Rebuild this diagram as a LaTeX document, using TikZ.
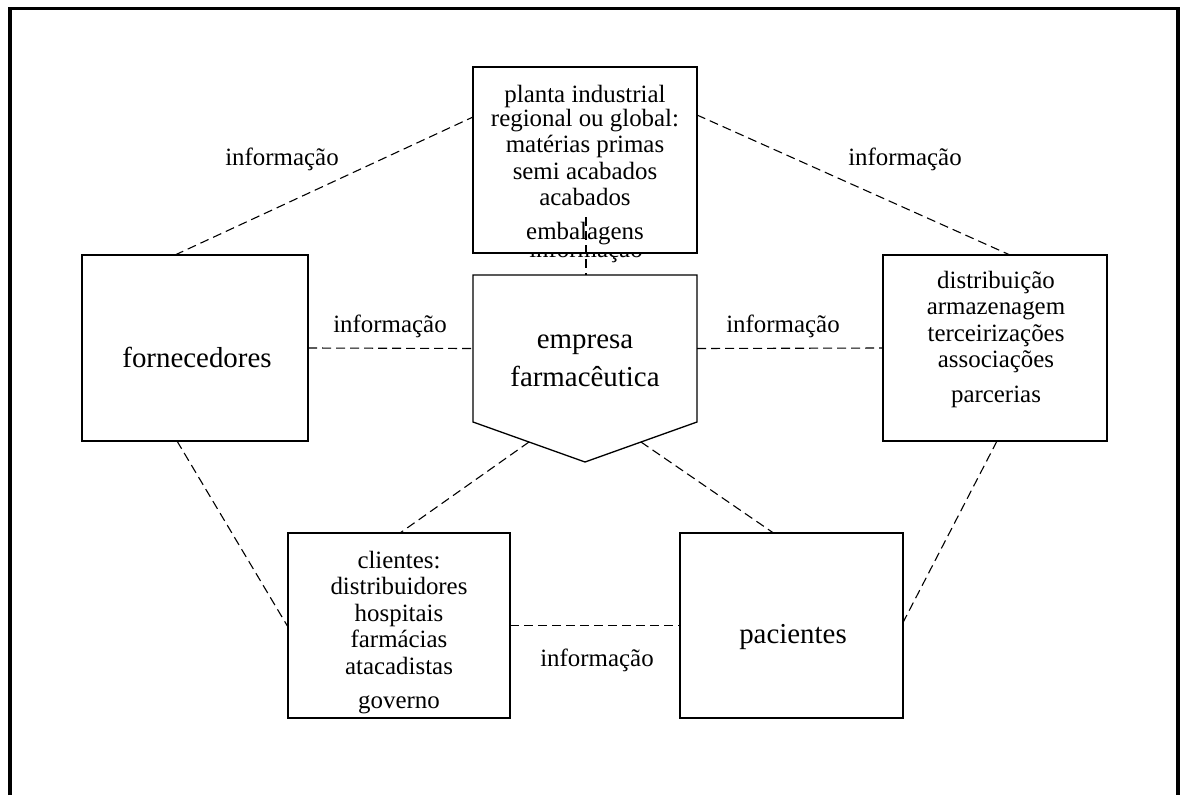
\documentclass[tikz,border=0pt]{standalone}
\usepackage{fontspec}
\setmainfont{Liberation Serif}
\usetikzlibrary{calc}

\begin{document}
\begin{tikzpicture}[x=1pt, y=-1pt,
                    every node/.append style = {inner sep=0pt, outer sep=0pt},
                    caixa/.style = {draw, fill=white, line width=1.3pt, minimum width=224, minimum height=186},
                    grande/.style = {font=\fontsize{28.9}{38}\selectfont, align=center, anchor=base},
                    texto/.style = {font=\fontsize{24.9}{26.5}\selectfont, align=center, anchor=base},
                    ligacao/.style = {line width=1.1pt, dash pattern=on 9pt off 5pt}]
                \useasboundingbox (0,0) rectangle (1180,795);
                \draw[line width=3.4pt] (10,795) -- (10,8.5) -- (1178,8.5) -- (1178,795);
                % rotulo que fica atras da caixa da planta
                \node[texto] (infoplanta) at (586,257) {informação};
                \node[caixa] (planta) at (585,160) {};
                \node[caixa, minimum width=226] (forn) at (195,348) {};
                \node[caixa] (dist) at (995,348) {};
                \node[caixa, minimum width=222, minimum height=185] (cli) at (399,625.5) {};
                \node[caixa, minimum width=223, minimum height=185] (pac) at (791.5,625.5) {};
                \node[minimum width=224, minimum height=147] (empresa) at (585,348.5) {};
                \coordinate (ponta) at (585,462);
                \draw[line width=1.3pt] (empresa.north west) -- (empresa.north east) -- (empresa.south east)
                    -- (ponta) -- (empresa.south west) -- cycle;
                % a base dos textos de varias linhas e a da ultima linha
                \node[texto] (plantatxt) at (585,239) {planta industrial\\[-2pt]regional ou global:\\[-0.5pt]matérias primas\\semi acabados\\acabados\\[7pt]embalagens};
                \node[texto] (disttxt) at (996,402) {distribuição\\armazenagem\\terceirizações\\associações\\[8pt]parcerias};
                \node[texto] (clitxt) at (399,708) {clientes:\\distribuidores\\hospitais\\farmácias\\atacadistas\\[7.5pt]governo};
                \node[grande] (forntxt) at (197,367) {fornecedores};
                \node[grande] (pactxt) at (793,643) {pacientes};
                \node[grande] (empresatxt) at (585,386) {empresa\\farmacêutica};
                \node[texto] (info1) at (282,165) {informação};
                \node[texto] (info2) at (905,165) {informação};
                \node[texto] (info3) at (390,332) {informação};
                \node[texto] (info4) at (783,332) {informação};
                \node[texto] (info5) at (597,666) {informação};
                % ligacoes
                \coordinate (plantabaixo) at ($(planta.south)+(1,-36)$);
                \draw[ligacao] ($(forn.north)+(-20,0)$) -- ($(planta.north west)+(0,50)$);
                \draw[ligacao] ($(planta.north east)+(0,48)$) -- ($(dist.north)+(15,0)$);
                \draw[ligacao] (forn.east) -- (empresa.west);
                \draw[ligacao] (empresa.east) -- (dist.west);
                \draw[ligacao] (plantabaixo) -- ($(empresa.north)+(1,0)$);
                \draw[ligacao] ($(empresa.south west)!0.5!(ponta)$) -- ($(cli.north)+(1,0)$);
                \draw[ligacao] ($(empresa.south east)!0.5!(ponta)$) -- ($(pac.north)+(-18,0)$);
                \draw[ligacao] ($(forn.south)+(-18,0)$) -- ($(cli.west)+(0,1.5)$);
                \draw[ligacao] ($(dist.south)+(2,0)$) -- ($(pac.east)+(0,-3)$);
                \draw[ligacao] (cli.east) -- (pac.west);
                \end{tikzpicture}
\end{document}
